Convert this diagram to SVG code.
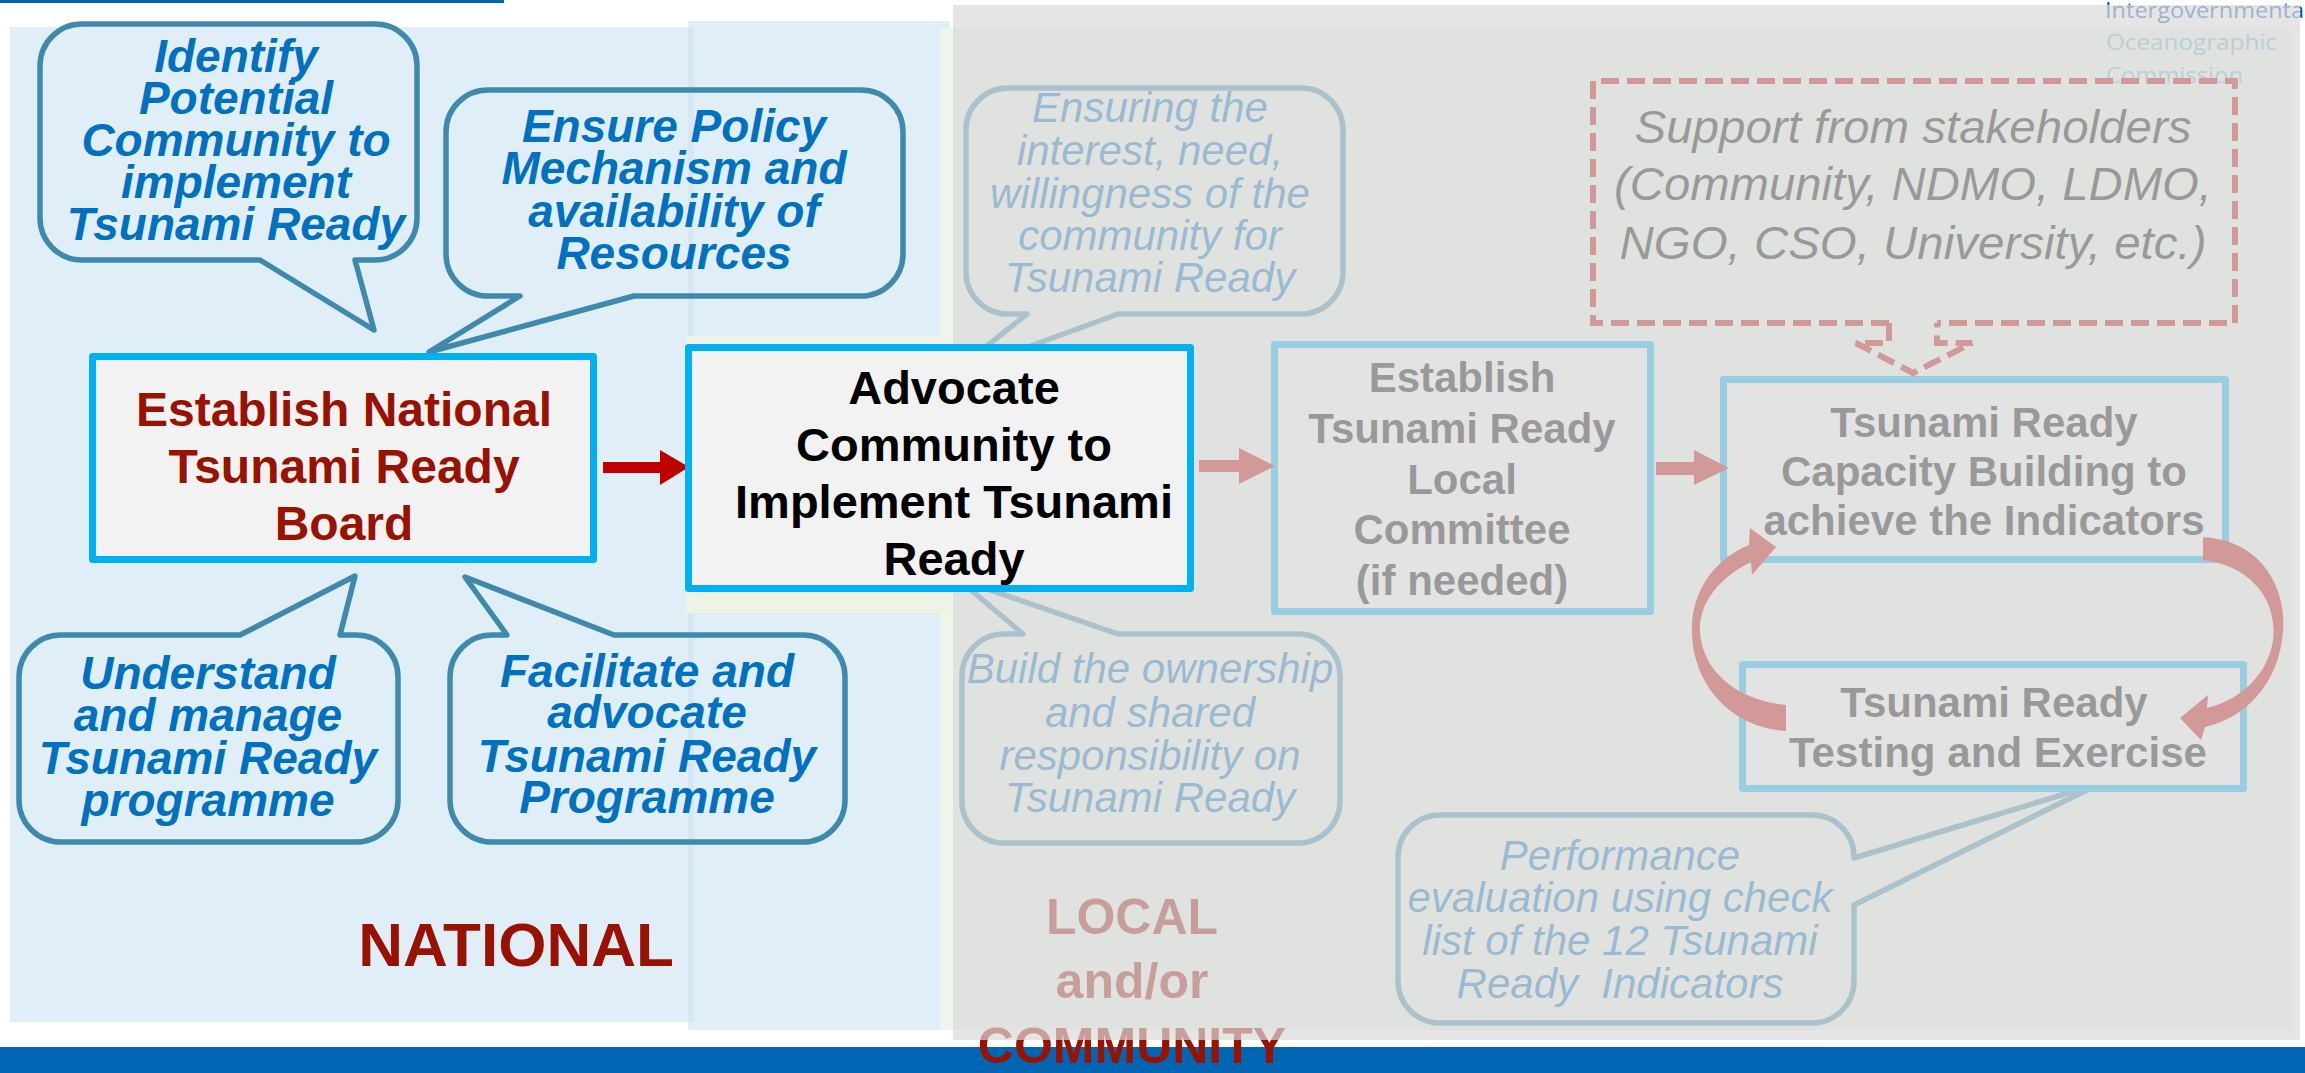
<svg xmlns="http://www.w3.org/2000/svg" width="2305" height="1073" viewBox="0 0 2305 1073">
<style>
text{font-family:"Liberation Sans",Arial,sans-serif;text-anchor:middle}
.b{font-weight:bold}
.nb{font-weight:bold;font-style:italic;fill:#0070c0;font-size:46px}
.lb{font-style:italic;fill:#0070c0;font-size:42px}
.bubble{fill:none;stroke:#3f89ad;stroke-width:5.5;stroke-linejoin:round}
.box{fill:#f2f2f2;stroke:#00b0f0;stroke-width:7;stroke-linejoin:round}
.lbox{fill:#f7f7f7;stroke:#00b0f0;stroke-width:7;stroke-linejoin:round}
.dash{fill:none;stroke:#c00000;stroke-width:6;stroke-dasharray:18 8}
.pink{fill:#c00000}
</style>
<rect width="2305" height="1073" fill="#ffffff"/>
<g id="background">
<rect x="0" y="0" width="504" height="3" fill="#0066b3"/>
<rect x="10" y="27" width="684" height="995" fill="#e0eef8"/>
<rect x="688" y="21" width="262" height="1009" fill="#e0eef8"/>
<rect x="688" y="27" width="6" height="995" fill="#d6e8f4"/>
<rect x="940" y="28" width="1351" height="1002" fill="#eef5ea"/>
<rect x="686" y="336" width="266" height="277" fill="#edf4e6"/>
<rect x="0" y="1047" width="2305" height="26" fill="#0066b3"/>
</g>
<g id="label-national"><text class="b" x="516" y="966" font-size="62" fill="#991100">NATIONAL</text></g>
<g id="label-local" class="b" font-size="50" fill="#991100">
<text x="1132" y="934">LOCAL</text>
<text x="1132" y="998">and/or</text>
<text x="1132" y="1063">COMMUNITY</text>
</g>
<g id="logo" font-size="22">
<text x="2105" y="18" style="font-family:'Open Sans','Noto Sans',sans-serif;text-anchor:start" fill="#0058b0" textLength="205" lengthAdjust="spacingAndGlyphs">Intergovernmental</text>
<text x="2106" y="50" style="font-family:'Open Sans','Noto Sans',sans-serif;text-anchor:start" fill="#70b0d8" textLength="171" lengthAdjust="spacingAndGlyphs">Oceanographic</text>
<text x="2106" y="83" style="font-family:'Open Sans','Noto Sans',sans-serif;text-anchor:start" fill="#70b0d8" textLength="137" lengthAdjust="spacingAndGlyphs">Commission</text>
</g>
<g id="bubble-identify">
<path class="bubble" d="M82,24 H375 A42,42 0 0 1 417,66 V218 A42,42 0 0 1 375,260 H355 L374,330 L260,260 H82 A42,42 0 0 1 40,218 V66 A42,42 0 0 1 82,24 Z"/>
<text class="nb" x="236" y="72">Identify</text>
<text class="nb" x="236" y="114">Potential</text>
<text class="nb" x="236" y="156">Community to</text>
<text class="nb" x="236" y="198">implement</text>
<text class="nb" x="236" y="240">Tsunami Ready</text>
</g>
<g id="bubble-policy">
<path class="bubble" d="M488,90 H861 A42,42 0 0 1 903,132 V254 A42,42 0 0 1 861,296 H634 L429,352 L520,296 H488 A42,42 0 0 1 446,254 V132 A42,42 0 0 1 488,90 Z"/>
<text class="nb" x="674" y="142">Ensure Policy</text>
<text class="nb" x="674" y="184">Mechanism and</text>
<text class="nb" x="674" y="227">availability of</text>
<text class="nb" x="674" y="269">Resources</text>
</g>
<g id="bubble-understand">
<path class="bubble" d="M61,635 H240 L355,576 L340,635 H356 A42,42 0 0 1 398,677 V800 A42,42 0 0 1 356,842 H61 A42,42 0 0 1 19,800 V677 A42,42 0 0 1 61,635 Z"/>
<text class="nb" x="208" y="689">Understand</text>
<text class="nb" x="208" y="731">and manage</text>
<text class="nb" x="208" y="774">Tsunami Ready</text>
<text class="nb" x="208" y="816">programme</text>
</g>
<g id="bubble-facilitate">
<path class="bubble" d="M492,635 H507 L465,577 L614,635 H803 A42,42 0 0 1 845,677 V800 A42,42 0 0 1 803,842 H492 A42,42 0 0 1 450,800 V677 A42,42 0 0 1 492,635 Z"/>
<text class="nb" x="647" y="687">Facilitate and</text>
<text class="nb" x="647" y="728">advocate</text>
<text class="nb" x="647" y="772">Tsunami Ready</text>
<text class="nb" x="647" y="813">Programme</text>
</g>
<g id="node-national-board">
<rect class="box" x="92.5" y="356.5" width="501" height="203"/>
<text class="b" x="344" y="426" font-size="48" fill="#991100">Establish National</text>
<text class="b" x="344" y="483" font-size="48" fill="#991100">Tsunami Ready</text>
<text class="b" x="344" y="540" font-size="48" fill="#991100">Board</text>
</g>
<g id="bubble-ensuring">
<path class="bubble" d="M1008,88 H1301 A42,42 0 0 1 1343,130 V272 A42,42 0 0 1 1301,314 H1118 L949,376 L1027,314 H1008 A42,42 0 0 1 966,272 V130 A42,42 0 0 1 1008,88 Z"/>
<text class="lb" x="1150" y="122">Ensuring the</text>
<text class="lb" x="1150" y="165">interest, need,</text>
<text class="lb" x="1150" y="208">willingness of the</text>
<text class="lb" x="1150" y="250">community for</text>
<text class="lb" x="1150" y="292">Tsunami Ready</text>
</g>
<g id="bubble-ownership">
<path class="bubble" d="M1004,634 H1023 L958,579 L1118,634 H1298 A42,42 0 0 1 1340,676 V801 A42,42 0 0 1 1298,843 H1004 A42,42 0 0 1 962,801 V676 A42,42 0 0 1 1004,634 Z"/>
<text class="lb" x="1150" y="683">Build the ownership</text>
<text class="lb" x="1150" y="727">and shared</text>
<text class="lb" x="1150" y="770">responsibility on</text>
<text class="lb" x="1150" y="812">Tsunami Ready</text>
</g>
<g id="bubble-performance">
<path class="bubble" d="M1440,815 H1812 A42,42 0 0 1 1854,857 V858 L2101,783 L1854,905 V981 A42,42 0 0 1 1812,1023 H1440 A42,42 0 0 1 1398,981 V857 A42,42 0 0 1 1440,815 Z"/>
<text class="lb" x="1620" y="870">Performance</text>
<text class="lb" x="1620" y="912">evaluation using check</text>
<text class="lb" x="1620" y="955">list of the 12 Tsunami</text>
<text class="lb" x="1620" y="998" xml:space="preserve">Ready  Indicators</text>
</g>
<g id="node-support">
<path class="dash" d="M1889,323 H1593 V81 H2235 V323 H1937"/>
<text x="1913" y="143" font-size="46" font-style="italic" fill="#000" textLength="557" lengthAdjust="spacingAndGlyphs">Support from stakeholders</text>
<text x="1913" y="200" font-size="46" font-style="italic" fill="#000" textLength="598" lengthAdjust="spacingAndGlyphs">(Community, NDMO, LDMO,</text>
<text x="1913" y="259" font-size="46" font-style="italic" fill="#000" textLength="587" lengthAdjust="spacingAndGlyphs">NGO, CSO, University, etc.)</text>
</g>
<g id="node-local-committee">
<rect class="lbox" x="1274.5" y="344.5" width="376" height="267"/>
<text class="b" x="1462" y="392" font-size="42">Establish</text>
<text class="b" x="1462" y="443" font-size="42">Tsunami Ready</text>
<text class="b" x="1462" y="494" font-size="42">Local</text>
<text class="b" x="1462" y="544" font-size="42">Committee</text>
<text class="b" x="1462" y="595" font-size="42">(if needed)</text>
</g>
<g id="node-capacity">
<rect class="lbox" x="1723.5" y="379.5" width="502" height="180"/>
<text class="b" x="1984" y="437" font-size="42">Tsunami Ready</text>
<text class="b" x="1984" y="486" font-size="42">Capacity Building to</text>
<text class="b" x="1984" y="535" font-size="42">achieve the Indicators</text>
</g>
<g id="node-testing">
<rect class="lbox" x="1742.5" y="664.5" width="501" height="124"/>
<text class="b" x="1994" y="717" font-size="42">Tsunami Ready</text>
<text class="b" x="1998" y="767" font-size="42" textLength="418" lengthAdjust="spacingAndGlyphs">Testing and Exercise</text>
</g>
<g id="connectors">
<polygon fill="#c00000" points="603,462 660,462 660,450 689,467 660,485 660,473 603,473"/>
<polygon class="pink" points="1199,460 1239,460 1239,448 1275,466 1239,484 1239,472 1199,472"/>
<polygon class="pink" points="1656,462 1694,462 1694,450 1729,468 1694,485 1694,475 1656,475"/>
<path class="dash" d="M1889,323 V343 H1856 L1913,373 L1972,343 H1937 V323"/>
<path class="pink" d="M1786,705 C1735,700 1703,670 1700,633 C1698,605 1718,578 1751,562 L1752,575 L1776,547 L1750,528 L1749,545 C1712,560 1690,595 1692,634 C1694,688 1734,728 1786,731 Z"/>
<path class="pink" d="M2203,537 C2262,540 2290,590 2282,640 C2276,685 2245,718 2205,727 L2201,740 L2180,718 L2208,695 L2207,708 C2240,700 2268,675 2273,640 C2278,600 2250,565 2203,560 Z"/>
</g>
<rect id="local-overlay" x="953" y="5" width="1347" height="1035" fill="#dadada" fill-opacity="0.7"/>
<g id="node-advocate">
<rect class="box" x="688.5" y="347.5" width="502" height="241"/>
<text class="b" x="954" y="404" font-size="47" fill="#000">Advocate</text>
<text class="b" x="954" y="461" font-size="47" fill="#000">Community to</text>
<text class="b" x="954" y="518" font-size="47" fill="#000">Implement Tsunami</text>
<text class="b" x="954" y="575" font-size="47" fill="#000">Ready</text>
</g>
</svg>
